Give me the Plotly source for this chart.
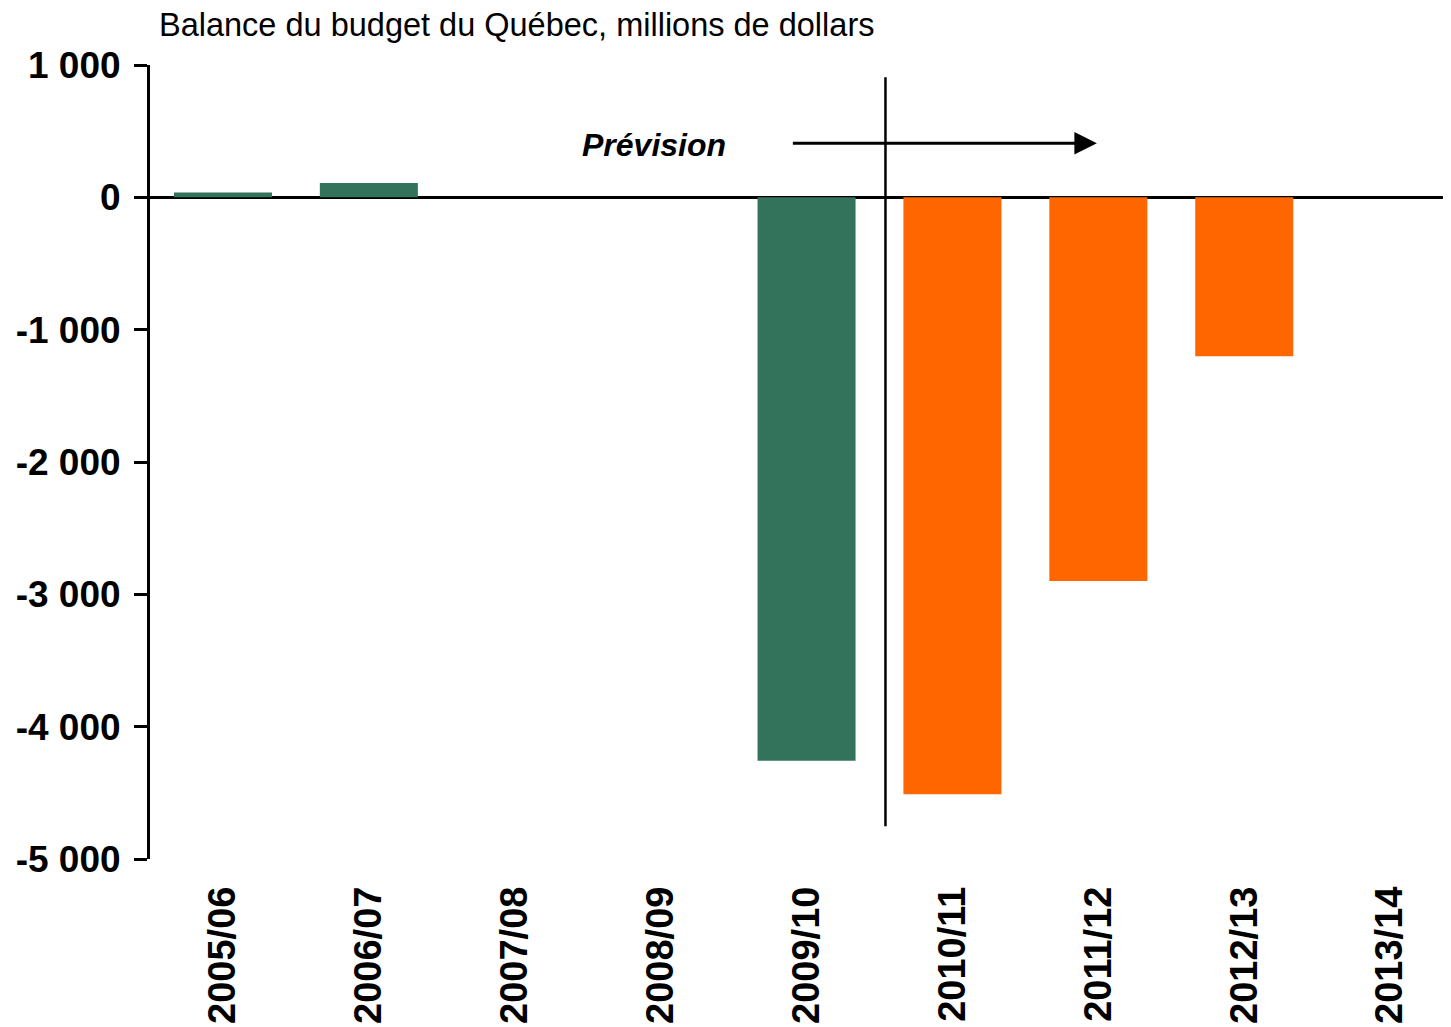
import plotly.graph_objects as go

categories = ["2005/06", "2006/07", "2007/08", "2008/09", "2009/10",
              "2010/11", "2011/12", "2012/13", "2013/14"]
balance = [37, 109, 0, 0, -4257, -4510, -2900, -1200, 0]
bar_colors = ["#33735C"] * 5 + ["#FF6600"] * 4
ytick_vals = [-5000, -4000, -3000, -2000, -1000, 0, 1000]
ytick_text = ["-5 000", "-4 000", "-3 000", "-2 000", "-1 000", "0", "1 000"]

FONT = "Arial, Liberation Sans, sans-serif"
OFF = 8  # page body margin

fig = go.Figure()
fig.add_trace(go.Bar(
    x=categories, y=balance,
    marker=dict(color=bar_colors, line=dict(width=0)),
    hoverinfo="x+y",
))

fig.update_layout(
    width=1451, height=1027 - OFF,
    margin=dict(l=150 - OFF, r=0, t=65 - OFF, b=168, pad=0),
    paper_bgcolor="white", plot_bgcolor="white",
    showlegend=False,
    bargap=0.328,
    font=dict(family=FONT, color="black"),
    xaxis=dict(
        type="category", categoryorder="array", categoryarray=categories,
        range=[-0.5, 8.472], showline=False, showgrid=False, zeroline=False,
        ticks="", tickangle=-90,
        tickfont=dict(family=FONT, size=38, color="black", weight="bold"),
        ticklabelstandoff=19,
    ),
    yaxis=dict(
        range=[-5000, 1000], tickvals=ytick_vals, ticktext=ytick_text,
        showgrid=False, showline=True, linecolor="black", linewidth=3,
        ticks="outside", ticklen=13, tickwidth=3, tickcolor="black",
        zeroline=True, zerolinecolor="black", zerolinewidth=3,
        tickfont=dict(family=FONT, size=37, color="black", weight="bold"),
        ticklabelstandoff=6,
    ),
)

# Vertical separator between actual and forecast
fig.add_shape(type="line", xref="x", yref="y",
              x0=4.541, x1=4.541, y0=908, y1=-4752,
              line=dict(color="black", width=2.5))

# Forecast arrow
fig.add_annotation(x=5.99, y=408, ax=3.896, ay=408, xref="x", yref="y",
                   axref="x", ayref="y", text="", showarrow=True,
                   arrowhead=2, arrowsize=1.5, arrowwidth=3, arrowcolor="black")

fig.add_annotation(x=2.954, y=393, xref="x", yref="y", text="<b><i>Prévision</i></b>",
                   showarrow=False, font=dict(family=FONT, size=32, color="black"),
                   xanchor="center", yanchor="middle")

# Title
fig.add_annotation(x=(157 - 150) / 1309, y=1 + (65 - 25) / 794, xref="paper", yref="paper",
                   text="Balance du budget du Québec, millions de dollars",
                   showarrow=False, xanchor="left", yanchor="middle",
                   font=dict(family=FONT, size=32.5, color="black"))

fig.write_html("out.html")
